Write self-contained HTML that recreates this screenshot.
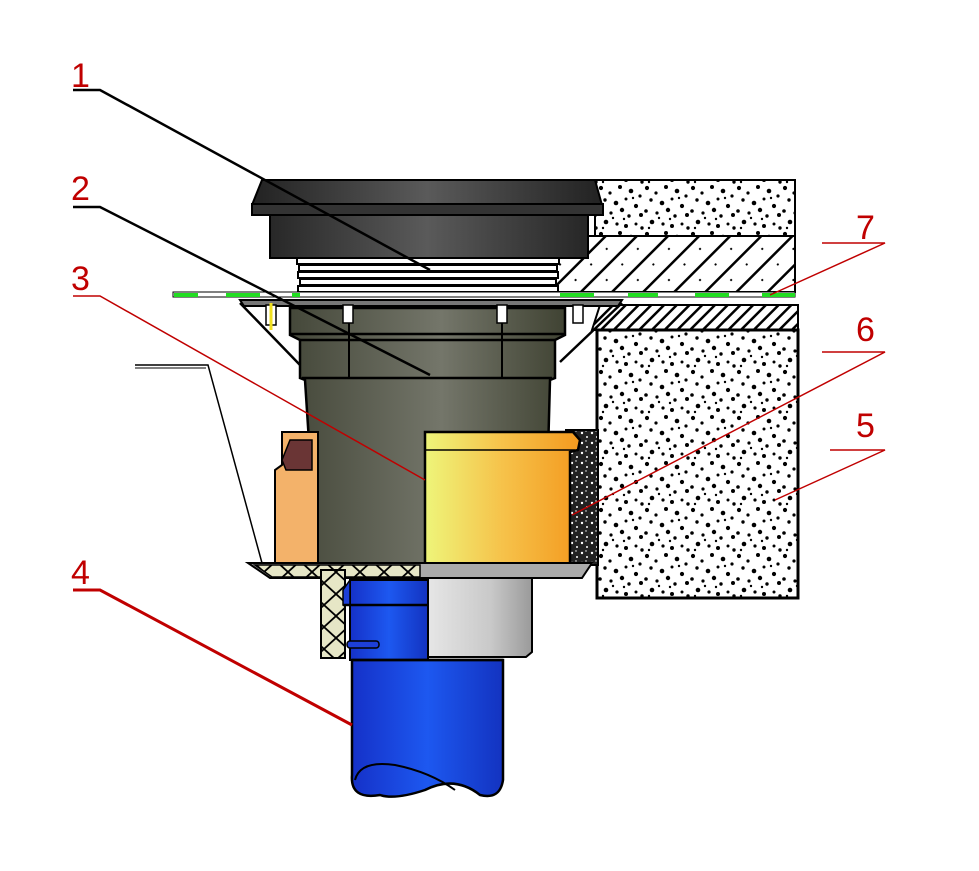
<!DOCTYPE html>
<html><head><meta charset="utf-8"><style>
html,body{margin:0;padding:0;background:#fff;}
svg{display:block;}
text{font-family:"Liberation Sans",sans-serif;fill:#c00000;font-size:34px;}
</style></head><body>
<svg width="979" height="871" viewBox="0 0 979 871" xmlns="http://www.w3.org/2000/svg">
<defs>
<pattern id="conc" width="46" height="46" patternUnits="userSpaceOnUse">
<rect width="46" height="46" fill="#fff"/>
<g fill="#000">
<circle cx="3" cy="4" r="2.1"/><circle cx="12" cy="9" r="1.6"/><circle cx="22" cy="3" r="2"/><circle cx="33" cy="7" r="2.3"/><circle cx="42" cy="12" r="1.6"/>
<circle cx="7" cy="16" r="1.7"/><circle cx="18" cy="19" r="2.3"/><circle cx="28" cy="15" r="1.5"/><circle cx="38" cy="22" r="2.1"/><circle cx="2" cy="27" r="1.8"/>
<circle cx="13" cy="29" r="1.6"/><circle cx="24" cy="26" r="2.2"/><circle cx="31" cy="32" r="1.7"/><circle cx="43" cy="31" r="2"/><circle cx="8" cy="38" r="2.3"/>
<circle cx="19" cy="40" r="1.6"/><circle cx="28" cy="42" r="2"/><circle cx="38" cy="40" r="1.5"/><circle cx="44" cy="44" r="1.7"/><circle cx="15" cy="34" r="1.2"/>
<circle cx="35" cy="14" r="1.2"/><circle cx="5" cy="44" r="1.2"/><circle cx="26" cy="35" r="1.2"/>
</g></pattern>
<pattern id="foam" width="10" height="10" patternUnits="userSpaceOnUse">
<rect width="10" height="10" fill="#222"/><circle cx="2" cy="3" r="1.2" fill="#fff"/><circle cx="7" cy="7" r="1" fill="#fff"/><circle cx="6" cy="1" r="0.7" fill="#fff"/>
</pattern>
<pattern id="hatch" width="22" height="22" patternUnits="userSpaceOnUse" patternTransform="rotate(45)">
<rect width="22" height="22" fill="#fff"/><rect x="0" y="0" width="2.5" height="22" fill="#000"/><circle cx="11" cy="11" r="1.1" fill="#000"/>
</pattern>
<pattern id="hatch2" width="9" height="9" patternUnits="userSpaceOnUse" patternTransform="rotate(45)">
<rect width="9" height="9" fill="#fff"/><rect width="2.5" height="9" fill="#000"/>
</pattern>
<linearGradient id="cap" x1="0" x2="1"><stop offset="0" stop-color="#222"/><stop offset="0.5" stop-color="#5a5a5a"/><stop offset="1" stop-color="#222"/></linearGradient>
<linearGradient id="olive" x1="0" x2="1"><stop offset="0" stop-color="#45483a"/><stop offset="0.55" stop-color="#74766a"/><stop offset="1" stop-color="#404333"/></linearGradient>
<linearGradient id="yel" x1="0" x2="1"><stop offset="0" stop-color="#eef57a"/><stop offset="0.5" stop-color="#f6c24a"/><stop offset="1" stop-color="#f39a1f"/></linearGradient>
<linearGradient id="grey" x1="0" x2="1"><stop offset="0" stop-color="#e6e6e6"/><stop offset="0.6" stop-color="#c9c9c9"/><stop offset="1" stop-color="#9a9a9a"/></linearGradient>
<linearGradient id="blue" x1="0" x2="1"><stop offset="0" stop-color="#1531c8"/><stop offset="0.5" stop-color="#1d58f0"/><stop offset="1" stop-color="#1333c0"/></linearGradient>
<pattern id="xs" width="24" height="22" patternUnits="userSpaceOnUse">
<rect width="24" height="22" fill="#e6e6c6"/><path d="M0 0L24 22M24 0L0 22" stroke="#000" stroke-width="1.8"/>
</pattern>
</defs>

<rect x="595" y="180" width="200" height="56" fill="url(#conc)" stroke="#000" stroke-width="2"/>
<rect x="555" y="236" width="240" height="56" fill="url(#hatch)" stroke="#000" stroke-width="2"/>
<path d="M600 305 L798 305 L798 330 L592 330 Z" fill="url(#hatch2)" stroke="#000" stroke-width="2"/>
<rect x="597" y="330" width="201" height="268" fill="url(#conc)" stroke="#000" stroke-width="3"/>

<path d="M135 365 L208 365 L262 563" fill="none" stroke="#000" stroke-width="1.5"/>
<path d="M135 368 L206 368" fill="none" stroke="#000" stroke-width="1"/>

<path d="M240 303 L300 365 M622 303 L560 362" stroke="#000" stroke-width="2.5"/>

<path d="M262 180 L595 180 L602 205 L602 215 L588 215 L588 258 L270 258 L270 215 L252 215 L252 205 Z" fill="url(#cap)" stroke="#000" stroke-width="2"/>
<rect x="252" y="204" width="351" height="11" fill="#333" stroke="#000" stroke-width="2"/>
<g fill="#fff" stroke="#000" stroke-width="2">
<rect x="297" y="258" width="262" height="6"/><rect x="299" y="265" width="258" height="6"/><rect x="298" y="272" width="260" height="6"/><rect x="300" y="279" width="256" height="6"/><rect x="298" y="286" width="260" height="6"/>
</g>

<rect x="173" y="292" width="622" height="5" fill="#fff" stroke="#000" stroke-width="1"/>
<g fill="#22dd22"><rect x="174" y="293" width="24" height="4"/><rect x="226" y="293" width="34" height="4"/><rect x="292" y="293" width="8" height="4"/><rect x="560" y="293" width="34" height="4"/><rect x="628" y="293" width="30" height="4"/><rect x="695" y="293" width="34" height="4"/><rect x="762" y="293" width="33" height="4"/></g>

<path d="M240 300 L622 300 L618 306 L244 306 Z" fill="#777" stroke="#000" stroke-width="2"/>

<path d="M290 308 L565 308 L565 335 L555 340 L555 378 L550 380 L545 565 L317 565 L305 380 L300 378 L300 340 L290 335 Z" fill="url(#olive)" stroke="#000" stroke-width="2.5"/>
<path d="M290 334 L565 334 M300 340 L555 340 M302 378 L552 378" stroke="#000" stroke-width="2.5"/>
<path d="M349 305 L349 378 M502 305 L502 378" stroke="#000" stroke-width="2"/>
<g fill="#fff" stroke="#000" stroke-width="1.5"><rect x="266" y="305" width="10" height="20"/><rect x="343" y="305" width="10" height="18"/><rect x="497" y="305" width="10" height="18"/><rect x="573" y="305" width="10" height="18"/></g>
<path d="M271 303 L271 330" stroke="#f0e020" stroke-width="3"/>

<path d="M282 432 L318 432 L318 563 L275 563 L275 470 L282 465 Z" fill="#f3b26a" stroke="#000" stroke-width="2"/>
<path d="M290 440 L312 440 L312 470 L286 470 L282 460 Z" fill="#6a3535" stroke="#000" stroke-width="1.5"/>

<rect x="566" y="430" width="32" height="135" fill="url(#foam)" stroke="#000" stroke-width="2"/>

<path d="M425 432 L573 432 L580 440 L578 450 L570 452 L570 565 L425 565 Z" fill="url(#yel)" stroke="#000" stroke-width="2.5"/>
<path d="M425 450 L575 450" stroke="#000" stroke-width="1.5"/>

<path d="M248 563 L592 563 L582 578 L270 578 Z" fill="#aaa" stroke="#000" stroke-width="2"/>
<path d="M255 565 L420 565 L420 577 L272 577 Z" fill="url(#xs)" stroke="#000" stroke-width="1.5"/>

<rect x="321" y="570" width="24" height="88" fill="url(#xs)" stroke="#000" stroke-width="2"/>

<path d="M428 578 L532 578 L532 652 L526 657 L428 657 Z" fill="url(#grey)" stroke="#000" stroke-width="2"/>

<path d="M350 580 L428 580 L428 660 L350 660 Z" fill="url(#blue)" stroke="#000" stroke-width="2"/>
<path d="M343 590 L350 580 L350 605 L343 605 Z" fill="#1d3fd8" stroke="#000" stroke-width="1.5"/>
<path d="M343 605 L428 605" stroke="#000" stroke-width="2.5"/>
<rect x="347" y="641" width="32" height="7" rx="3" fill="#1d3fd8" stroke="#000" stroke-width="1.5"/>
<path d="M352 660 L503 660 L503 780 Q500 800 480 795 Q455 775 425 790 Q395 800 380 795 Q350 800 352 775 Z" fill="url(#blue)" stroke="#000" stroke-width="2.5"/>
<path d="M352 660 L503 660" stroke="#000" stroke-width="2.5"/>
<path d="M355 780 Q360 760 395 765 Q430 772 455 790" fill="none" stroke="#000" stroke-width="2"/>

<g fill="none" stroke-width="2.5">
<path d="M73 90 L100 90 L430 270" stroke="#000"/>
<path d="M73 207 L100 207 L430 375" stroke="#000"/>
<path d="M73 296 L100 296 L425 480" stroke="#c00000" stroke-width="1.5"/>
<path d="M73 590 L100 590 L352 725" stroke="#c00000" stroke-width="3"/>
<path d="M822 243 L885 243 L770 295" stroke="#c00000" stroke-width="1.5"/>
<path d="M822 352 L885 352 L572 515" stroke="#c00000" stroke-width="1.5"/>
<path d="M830 450 L885 450 L775 500" stroke="#c00000" stroke-width="1.5"/>
</g>
<text x="71" y="87">1</text>
<text x="71" y="200">2</text>
<text x="71" y="290">3</text>
<text x="71" y="584">4</text>
<text x="856" y="437">5</text>
<text x="856" y="341">6</text>
<text x="856" y="239">7</text>
</svg>
</body></html>
